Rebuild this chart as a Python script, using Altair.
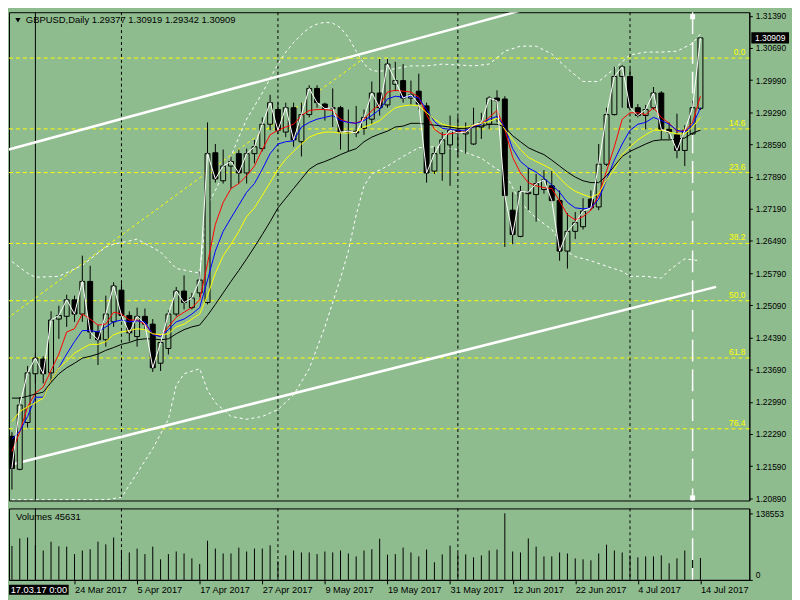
import altair as alt
import pandas as pd

# ---------------- data ----------------
symbol = "GBPUSD,Daily"
bar_index = list(range(89))

opens = [1.2224,1.2152,1.2254,1.2360,1.2392,1.2362,1.2479,1.2485,1.2521,1.2490,
1.2561,1.2451,1.2434,1.2473,1.2542,1.2487,1.2441,1.2485,1.2468,1.2383,
1.2415,1.2490,1.2540,1.2504,1.2536,1.2515,1.2841,1.2780,1.2812,1.2839,
1.2797,1.2839,1.2850,1.2903,1.2935,1.2886,1.2939,1.2865,1.2924,1.2981,
1.2947,1.2937,1.2939,1.2886,1.2888,1.2894,1.2914,1.2971,1.2945,1.2990,
1.2998,1.2960,1.2975,1.2943,1.2801,1.2839,1.2858,1.2890,1.2882,1.2860,
1.2897,1.2903,1.2960,1.2958,1.2716,1.2659,1.2752,1.2750,1.2761,1.2769,
1.2737,1.2627,1.2670,1.2680,1.2740,1.2723,1.2816,1.2924,1.3007,1.3007,
1.2939,1.2922,1.2939,1.2971,1.2892,1.2880,1.2846,1.2882,1.29377]

highs = [1.2233,1.2309,1.2377,1.2405,1.2398,1.2496,1.2508,1.2532,1.2530,1.2617,
1.2595,1.2466,1.2530,1.2559,1.2557,1.2496,1.2504,1.2502,1.2479,1.2434,
1.2498,1.2549,1.2574,1.2536,1.2583,1.2907,1.2860,1.2848,1.2833,1.2848,
1.2850,1.2869,1.2918,1.2967,1.2950,1.2950,1.2950,1.2950,1.2988,1.2988,
1.2950,1.2981,1.2943,1.2935,1.2943,1.2935,1.2996,1.3045,1.3045,1.3039,
1.3034,1.2998,1.3013,1.2950,1.2854,1.2886,1.2922,1.2920,1.2907,1.2939,
1.2928,1.2964,1.2977,1.2964,1.2755,1.2769,1.2808,1.2795,1.2803,1.2801,
1.2759,1.2710,1.2712,1.2742,1.2759,1.2860,1.2939,1.3028,1.3032,1.3024,
1.2947,1.2945,1.2984,1.2975,1.2907,1.2926,1.2901,1.2954,1.30919]

lows = [1.2108,1.2150,1.2243,1.2339,1.2339,1.2341,1.2436,1.2462,1.2473,1.2473,
1.2436,1.2379,1.2419,1.2462,1.2477,1.2430,1.2419,1.2455,1.2364,1.2366,
1.2402,1.2485,1.2500,1.2500,1.2527,1.2511,1.2776,1.2774,1.2763,1.2774,
1.2774,1.2818,1.2844,1.2890,1.2882,1.2875,1.2854,1.2833,1.2918,1.2939,
1.2911,1.2897,1.2848,1.2844,1.2875,1.2880,1.2903,1.2922,1.2939,1.2975,
1.2950,1.2945,1.2935,1.2776,1.2795,1.2780,1.2769,1.2833,1.2839,1.2858,
1.2871,1.2892,1.2907,1.2636,1.2642,1.2657,1.2716,1.2691,1.2752,1.2733,
1.2606,1.2589,1.2653,1.2674,1.2716,1.2716,1.2812,1.2922,1.2939,1.2935,
1.2918,1.2892,1.2935,1.2869,1.2871,1.2829,1.2812,1.2880,1.29342]

closes = [1.2154,1.2292,1.2362,1.2394,1.2360,1.2477,1.2487,1.2521,1.2490,1.2561,
1.2451,1.2434,1.2490,1.2551,1.2487,1.2449,1.2485,1.2468,1.2373,1.2428,
1.2490,1.2540,1.2515,1.2525,1.2564,1.2839,1.2784,1.2812,1.2822,1.2797,
1.2839,1.2854,1.2903,1.2950,1.2890,1.2939,1.2869,1.2924,1.2981,1.2950,
1.2937,1.2939,1.2886,1.2888,1.2884,1.2918,1.2971,1.2939,1.3034,1.2998,
1.2960,1.2967,1.2947,1.2797,1.2839,1.2869,1.2890,1.2884,1.2886,1.2901,
1.2907,1.2960,1.2954,1.2748,1.2663,1.2757,1.2755,1.2774,1.2782,1.2737,
1.2627,1.2670,1.2689,1.2714,1.2721,1.2816,1.2924,1.3007,1.3028,1.2939,
1.2922,1.2935,1.2971,1.2892,1.2886,1.2846,1.2890,1.2939,1.30909]

volumes = [70700,86200,88200,72700,61100,79500,69900,69300,53600,61100,
63800,79500,74000,88200,62500,57100,65200,53600,69300,42800,
53600,59100,55000,44800,33200,81500,65200,55000,55000,67200,
59100,65200,65200,71900,38700,50900,61100,57100,57100,53600,
59100,57100,61100,55000,48900,61100,63800,85600,52400,53600,
67200,57100,48900,63200,36700,53000,71300,55600,53000,46900,
50900,61100,63200,138553,59100,57100,86200,69300,48900,48900,
57100,55000,44800,42800,40700,55000,73400,61100,57100,50900,
46900,48900,48900,50900,34600,44800,61100,50900,45631]

ma_red = [1.2191,1.2233,1.2288,1.2318,1.2331,1.2367,1.2403,1.2451,1.2458,1.2490,
1.2479,1.2466,1.2468,1.2494,1.2490,1.2477,1.2477,1.2468,1.2447,1.2441,
1.2462,1.2483,1.2494,1.2504,1.2521,1.2600,1.2685,1.2733,1.2763,1.2774,
1.2791,1.2812,1.2848,1.2880,1.2890,1.2897,1.2903,1.2922,1.2933,1.2935,
1.2935,1.2933,1.2914,1.2907,1.2905,1.2914,1.2933,1.2945,1.2973,1.2977,
1.2975,1.2973,1.2962,1.2924,1.2892,1.2880,1.2882,1.2886,1.2886,1.2899,
1.2905,1.2918,1.2933,1.2892,1.2831,1.2797,1.2776,1.2769,1.2765,1.2763,
1.2736,1.2706,1.2695,1.2702,1.2716,1.2748,1.2801,1.2854,1.2914,1.2928,
1.2928,1.2924,1.2939,1.2918,1.2905,1.2888,1.2888,1.2907,1.2964]

ma_blue = [1.2218,1.2235,1.2267,1.2309,1.2309,1.2345,1.2373,1.2403,1.2430,1.2454,
1.2454,1.2451,1.2462,1.2473,1.2477,1.2473,1.2475,1.2473,1.2445,1.2441,
1.2456,1.2473,1.2479,1.2490,1.2504,1.2564,1.2627,1.2670,1.2699,1.2727,
1.2755,1.2774,1.2805,1.2839,1.2860,1.2865,1.2867,1.2897,1.2907,1.2914,
1.2918,1.2922,1.2911,1.2907,1.2905,1.2911,1.2922,1.2935,1.2958,1.2964,
1.2962,1.2964,1.2960,1.2935,1.2909,1.2894,1.2892,1.2890,1.2890,1.2897,
1.2903,1.2914,1.2920,1.2897,1.2850,1.2822,1.2808,1.2799,1.2786,1.2771,
1.2755,1.2733,1.2721,1.2719,1.2721,1.2740,1.2782,1.2825,1.2860,1.2890,
1.2903,1.2907,1.2918,1.2911,1.2903,1.2890,1.2886,1.2901,1.2939]

ma_yellow = [1.2256,1.2278,1.2288,1.2297,1.2307,1.2345,1.2373,1.2388,1.2405,1.2415,
1.2424,1.2424,1.2430,1.2445,1.2451,1.2454,1.2458,1.2456,1.2447,1.2445,
1.2447,1.2462,1.2468,1.2479,1.2490,1.2530,1.2579,1.2617,1.2642,1.2670,
1.2702,1.2721,1.2748,1.2776,1.2805,1.2827,1.2844,1.2860,1.2875,1.2882,
1.2886,1.2886,1.2884,1.2884,1.2886,1.2897,1.2903,1.2911,1.2926,1.2939,
1.2943,1.2945,1.2943,1.2928,1.2914,1.2903,1.2899,1.2897,1.2897,1.2901,
1.2905,1.2909,1.2916,1.2892,1.2869,1.2848,1.2831,1.2822,1.2814,1.2805,
1.2786,1.2769,1.2757,1.2750,1.2744,1.2752,1.2782,1.2805,1.2837,1.2854,
1.2869,1.2880,1.2890,1.2890,1.2886,1.2882,1.2882,1.2897,1.2918]

ma_black = [1.2307,1.2307,1.2311,1.2316,1.2320,1.2341,1.2360,1.2373,1.2383,1.2394,
1.2398,1.2403,1.2411,1.2417,1.2424,1.2428,1.2434,1.2436,1.2436,1.2434,
1.2436,1.2447,1.2456,1.2462,1.2466,1.2487,1.2511,1.2536,1.2561,1.2585,
1.2610,1.2636,1.2663,1.2691,1.2721,1.2742,1.2763,1.2784,1.2805,1.2816,
1.2822,1.2829,1.2837,1.2844,1.2850,1.2865,1.2875,1.2882,1.2888,1.2897,
1.2899,1.2905,1.2905,1.2903,1.2901,1.2899,1.2897,1.2894,1.2894,1.2897,
1.2899,1.2903,1.2903,1.2897,1.2878,1.2865,1.2852,1.2844,1.2837,1.2825,
1.2812,1.2799,1.2788,1.2780,1.2776,1.2776,1.2791,1.2812,1.2833,1.2844,
1.2852,1.2860,1.2867,1.2869,1.2869,1.2871,1.2873,1.2884,1.2890]

bb_upper_bars = [0,2,3,6,9,12,13,15,16,19,21,24,25,26,27,28,29,30,31,32,
33,34,35,36,37,38,39,40,41,42,43,44,45,46,47,49,51,53,55,57,
59,61,63,65,67,69,71,73,75,77,79,81,83,85,87,88]
bb_upper = [1.2604,1.2579,1.2570,1.2572,1.2596,1.2636,1.2642,1.2649,1.2653,1.2625,
1.2589,1.2579,1.2727,1.2759,1.2795,1.2833,1.2875,1.2914,1.2943,1.2971,
1.3003,1.3034,1.3060,1.3081,1.3098,1.3113,1.3121,1.3125,1.3123,1.3113,
1.3092,1.3062,1.3034,1.3020,1.3018,1.3024,1.3030,1.3030,1.3034,1.3032,
1.3030,1.3034,1.3062,1.3073,1.3073,1.3056,1.3024,1.2996,1.2996,1.3024,
1.3054,1.3060,1.3060,1.3062,1.3079,1.3100]

bb_lower_bars = [0,4,8,12,14,16,18,20,21,22,24,25,26,28,30,32,34,36,38,40,
42,43,44,45,46,48,50,52,54,57,60,62,63,65,67,69,71,72,74,76,
78,79,81,83,84,86,88]
bb_lower = [1.2086,1.2086,1.2086,1.2086,1.2091,1.2144,1.2197,1.2261,1.2335,1.2360,
1.2371,1.2324,1.2297,1.2267,1.2261,1.2267,1.2282,1.2314,1.2371,1.2462,
1.2568,1.2627,1.2706,1.2769,1.2795,1.2812,1.2833,1.2852,1.2854,1.2848,
1.2829,1.2805,1.2797,1.2733,1.2699,1.2674,1.2625,1.2615,1.2606,1.2594,
1.2583,1.2572,1.2572,1.2568,1.2585,1.2610,1.2606]

fib_levels = [0.0, 14.6, 23.6, 38.2, 50.0, 61.8, 76.4]
fib_high = 1.3047
fib_low = 1.1991
fib_anchor_bars = [-40, 45]

channel_upper_bars = [-0.4, 66]
channel_upper = [1.2848, 1.3155]
channel_lower_bars = [-0.4, 90]
channel_lower = [1.2161, 1.2549]

month_start_bars = [14, 34, 57, 79]
vline_black_bar = 3
vline_black_label = "17.03.17 0:00"
vline_white_bar = 87

date_tick_bars = [8, 16, 24, 32, 40, 48, 56, 64, 72, 80, 88]
date_labels = ["24 Mar 2017", "5 Apr 2017", "17 Apr 2017", "27 Apr 2017",
               "9 May 2017", "19 May 2017", "31 May 2017", "12 Jun 2017",
               "22 Jun 2017", "4 Jul 2017", "14 Jul 2017"]
price_ticks = [1.20890, 1.21590, 1.22290, 1.22990, 1.23690, 1.24390, 1.25090,
               1.25790, 1.26490, 1.27190, 1.27890, 1.28590, 1.29290, 1.29990,
               1.30690, 1.31390]
volume_ticks = [0, 138553]

# ---------------- layout / style ----------------
W, H1, H2 = 746, 492, 72
BG = "#8fbc8f"
FONT = "Liberation Sans"
YELLOW = "#ffff00"

xs = alt.Scale(domain=[-0.375, 94.25], nice=False, zero=False, padding=0)
ps = alt.Scale(domain=[1.20842, 1.31468], nice=False, zero=False, padding=0)
vs = alt.Scale(domain=[0, 148700], nice=False, zero=False, padding=0)

price_axis = alt.Axis(orient="right", values=price_ticks, format=".5f", title=None,
                      labelFont=FONT, labelFontSize=8.5, labelColor="black", labelPadding=3,
                      tickSize=3, tickColor="black", domainColor="black", grid=False,
                      labelOverlap=False, labelBound=False)

label_expr = ("[" + ",".join(f"'{d}'" for d in date_labels) + "][indexof(["
              + ",".join(str(b) for b in date_tick_bars) + "], datum.value)]")
date_axis = alt.Axis(values=date_tick_bars, labelExpr=label_expr, labelAlign="left",
                     labelBaseline="top", labelFont=FONT, labelFontSize=9.3, labelPadding=2,
                     labelColor="black", tickSize=4, tickColor="black", domainColor="black",
                     grid=False, title=None, labelOverlap=False, labelFlush=False,
                     labelBound=False, zindex=1)
vol_axis = alt.Axis(orient="right", values=volume_ticks, format="d", title=None,
                    labelFont=FONT, labelFontSize=8.5, labelColor="black", labelPadding=3,
                    tickSize=3, tickColor="black", domainColor="black", grid=False,
                    labelFlush=True)


def X(field):
    # x channel of the price panel (no axis there)
    return alt.X(field, type="quantitative", scale=xs, axis=None, title=None)


def XV(field):
    # x channel of the volume panel (date axis)
    return alt.X(field, type="quantitative", scale=xs, axis=date_axis, title=None)


def P(field):
    return alt.Y(field, type="quantitative", scale=ps, axis=price_axis, title=None)


candles = pd.DataFrame({"i": bar_index, "open": opens, "high": highs,
                        "low": lows, "close": closes})

fib_df = pd.DataFrame({"level": fib_levels})
fib_df["price"] = fib_high - fib_df["level"] / 100.0 * (fib_high - fib_low)
fib_df["label"] = fib_df["level"].map(lambda v: f"{v:.1f}")

fib_rules = alt.Chart(fib_df).mark_rule(color=YELLOW, strokeDash=[4, 3], strokeWidth=1).encode(
    y=P("price"))

grid_df = pd.DataFrame({"i": month_start_bars})
vb_df = pd.DataFrame({"i": [vline_black_bar], "label": [vline_black_label]})
vw_df = pd.DataFrame({"i": [vline_white_bar]})


def vlines(xfn):
    g = alt.Chart(grid_df).mark_rule(color="black", strokeDash=[3, 3], strokeWidth=1).encode(x=xfn("i"))
    b = alt.Chart(vb_df).mark_rule(color="black", strokeWidth=1).encode(x=xfn("i"))
    w = alt.Chart(vw_df).mark_rule(color="white", strokeDash=[22, 8], strokeWidth=1.5).encode(x=xfn("i"))
    return g, b, w


grid_p, vb_p, vw_p = vlines(X)
grid_v, vb_v, vw_v = vlines(XV)

ch_rows = []
for b, p in zip(channel_upper_bars, channel_upper):
    ch_rows.append({"i": b, "price": p, "line": "upper"})
for b, p in zip(channel_lower_bars, channel_lower):
    ch_rows.append({"i": b, "price": p, "line": "lower"})
channels = alt.Chart(pd.DataFrame(ch_rows)).mark_line(color="white", strokeWidth=2.5, clip=True).encode(
    x=X("i"), y=P("price"), detail="line:N")

fibline_df = pd.DataFrame({"i": fib_anchor_bars, "price": [fib_low, fib_high]})
fib_line = alt.Chart(fibline_df).mark_line(color=YELLOW, strokeDash=[3, 3], strokeWidth=1, clip=True).encode(
    x=X("i"), y=P("price"))

bb_rows = [{"i": b, "price": p, "band": "upper"} for b, p in zip(bb_upper_bars, bb_upper)]
bb_rows += [{"i": b, "price": p, "band": "lower"} for b, p in zip(bb_lower_bars, bb_lower)]
bands = alt.Chart(pd.DataFrame(bb_rows)).mark_line(color="white", strokeDash=[3, 3], strokeWidth=1, clip=True).encode(
    x=X("i"), y=P("price"), detail="band:N")

base = alt.Chart(candles)
wicks = base.mark_rule(color="black", strokeWidth=1).encode(x=X("i"), y=P("low"), y2="high:Q")
bodies = base.mark_bar(size=5, stroke="black", strokeWidth=1).encode(
    x=X("i"), y=P("open"), y2="close:Q",
    fill=alt.condition("datum.close >= datum.open", alt.value(BG), alt.value("black")))

ma_rows = []
for name, vals in [("red", ma_red), ("blue", ma_blue), ("yellow", ma_yellow), ("black", ma_black)]:
    for i, v in zip(bar_index, vals):
        ma_rows.append({"i": i, "price": v, "ma": name})
mas = alt.Chart(pd.DataFrame(ma_rows)).mark_line(strokeWidth=1).encode(
    x=X("i"), y=P("price"),
    color=alt.Color("ma:N", scale=alt.Scale(domain=["red", "blue", "yellow", "black"],
                                            range=["#ff0000", "#0000ff", "#ffff00", "#000000"]),
                    legend=None))

close_line = base.mark_line(color="white", strokeWidth=1).encode(x=X("i"), y=P("close"))

fib_text = alt.Chart(fib_df).mark_text(color=YELLOW, align="right", baseline="alphabetic", dy=-3,
                                       font=FONT, fontSize=8.5).encode(
    x=alt.value(W - 4), y=P("price"), text="label:N")

sq_df = pd.DataFrame({"i": [vline_white_bar, vline_white_bar], "price": [1.3137, 1.2090]})
squares = alt.Chart(sq_df).mark_square(color="white", size=25, opacity=1, filled=True).encode(
    x=X("i"), y=P("price"))

header_text = (f"{symbol}  {opens[-1]:.5f} {highs[-1]:.5f} "
               f"{lows[-1]:.5f} {closes[-1]:.5f}")
header = alt.Chart(pd.DataFrame({"t": [header_text]})).mark_text(
    align="left", baseline="middle", font=FONT, fontSize=9.5, color="black").encode(
    x=alt.value(17), y=alt.value(8), text="t:N")
tri = alt.Chart(pd.DataFrame({"t": [0]})).mark_point(
    shape="triangle-down", filled=True, color="black", size=28, opacity=1).encode(
    x=alt.value(9), y=alt.value(8))

last_df = pd.DataFrame({"price": [closes[-1]], "label": [f"{closes[-1]:.5f}"]})
last_box = alt.Chart(last_df).mark_point(
    shape="M-1,-0.3L1,-0.3L1,0.3L-1,0.3Z", filled=True, color="black", size=1444, opacity=1).encode(
    x=alt.value(W + 21), y=P("price"))
last_text = alt.Chart(last_df).mark_text(color="white", font=FONT, fontSize=8.5,
                                         align="center", baseline="middle").encode(
    x=alt.value(W + 21), y=P("price"), text="label:N")

price_chart = alt.layer(
    fib_rules, grid_p, vb_p, vw_p, channels, fib_line, bands,
    wicks, bodies, mas, close_line, fib_text, squares, header, tri, last_box, last_text
).properties(width=W, height=H1)

# ---------------- volume panel ----------------
vol_df = pd.DataFrame({"i": bar_index, "volume": volumes})
vol_bars = alt.Chart(vol_df).mark_rule(color="black", strokeWidth=1).encode(
    x=XV("i"),
    y=alt.Y("volume:Q", scale=vs, axis=vol_axis, title=None),
    y2=alt.datum(0))

vol_title = alt.Chart(pd.DataFrame({"t": [f"Volumes {volumes[-1]}"]})).mark_text(
    align="left", baseline="middle", font=FONT, fontSize=9.5, color="black").encode(
    x=alt.value(7), y=alt.value(9), text="t:N")

vl_box = alt.Chart(vb_df).transform_calculate(
    a="datum.i - 3.375", b="datum.i + 4.25").mark_rect(color="black").encode(
    x=XV("a:Q"), x2="b:Q",
    y=alt.value(H2 + 5), y2=alt.value(H2 + 15))
vl_text = alt.Chart(vb_df).transform_calculate(c="datum.i + 0.45").mark_text(
    color="white", font=FONT, fontSize=9.3, align="center", baseline="middle").encode(
    x=XV("c:Q"), y=alt.value(H2 + 10), text="label:N")

vol_chart = alt.layer(
    vol_bars, grid_v, vb_v, vw_v, vol_title, vl_box, vl_text
).properties(width=W, height=H2)

chart = alt.vconcat(price_chart, vol_chart, spacing=3).properties(
    background=BG, padding={"left": 0, "top": 0, "right": 2, "bottom": 2}
).configure_view(stroke="black", strokeWidth=1, fill=BG)

chart.save("out.html", embed_options={"renderer": "svg", "actions": False})
